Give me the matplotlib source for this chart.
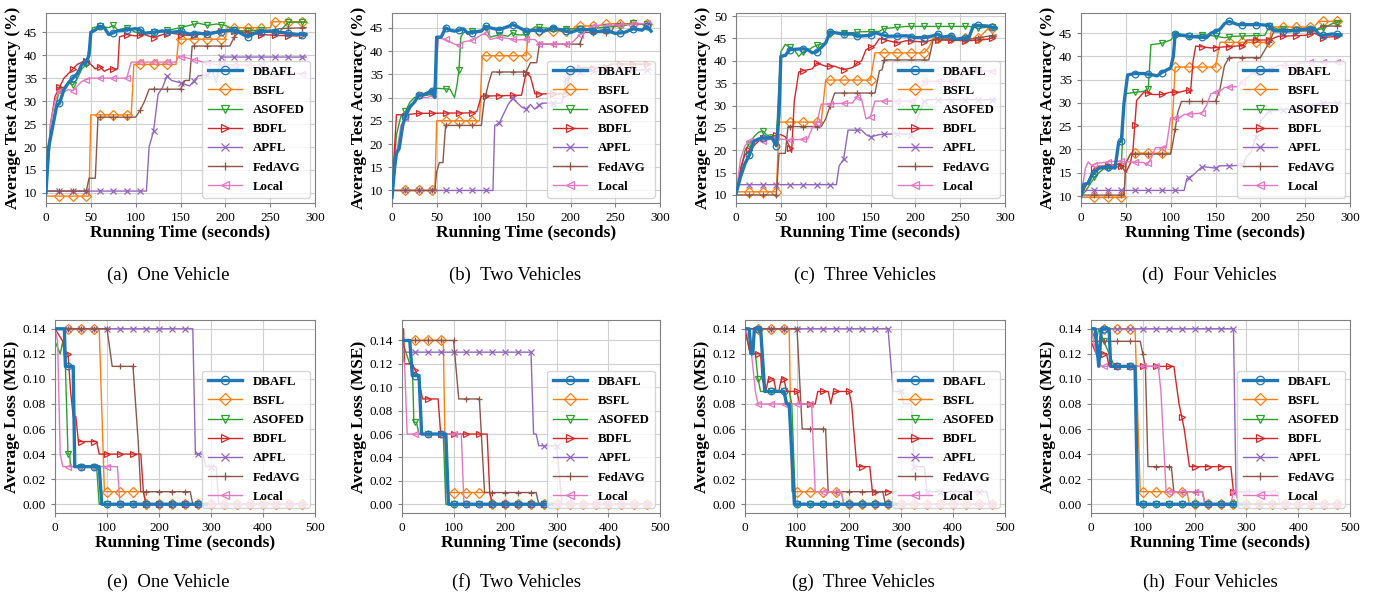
import numpy as np
import matplotlib.pyplot as plt
from matplotlib.lines import Line2D

plt.rcParams['font.family'] = ['Liberation Serif', 'DejaVu Serif']

methods = ['DBAFL', 'BSFL', 'ASOFED', 'BDFL', 'APFL', 'FedAVG', 'Local']
colors = ['tab:blue', 'tab:orange', 'tab:green', 'tab:red', 'tab:purple', 'tab:brown', 'tab:pink']
markers = ['o', 'D', 'v', '>', 'x', '+', '<']

# ---------------- accuracy, (a) one vehicle ----------------
acc1_dbafl = [(0, 10), (3, 20), (8, 25), (12, 29), (15, 29.5), (20, 32.5), (25, 34), (30, 35), (35, 36),
              (40, 38), (45, 38.5), (48, 40), (50, 45), (55, 45.5), (60, 46.3), (65, 46), (70, 44.5),
              (80, 45.3), (90, 45.5), (100, 45.8), (105, 45.5), (110, 44.8), (120, 45), (130, 45.3),
              (140, 45), (150, 45.2), (160, 44.6), (170, 44.8), (180, 44.6), (190, 45), (200, 45.3),
              (210, 45.5), (220, 44.5), (225, 44), (235, 45), (250, 45.3), (260, 45), (270, 44.8),
              (280, 44.5), (290, 44.5)]
acc1_bsfl = [(0, 9.3), (48, 9.3), (50, 27), (95, 27), (98, 38), (145, 38), (148, 43.5), (200, 43.5),
             (202, 46), (250, 46), (253, 47.3), (290, 47.3)]
acc1_asofed = [(0, 10), (5, 22), (10, 28), (15, 32.5), (20, 33), (25, 34), (30, 33.5), (35, 35), (40, 37),
               (45, 38), (50, 44), (52, 46), (60, 46.3), (70, 46), (75, 46.5), (80, 45.5), (90, 46),
               (100, 45), (110, 44.8), (120, 45), (130, 45.2), (150, 46), (160, 46.5), (170, 47),
               (180, 46.5), (190, 46.8), (200, 46.5), (210, 45.5), (220, 45.3), (240, 45.5), (260, 45),
               (270, 47.2), (290, 47.2)]
acc1_bdfl = [(0, 10), (5, 25), (10, 31), (15, 33), (20, 35), (25, 36), (30, 37), (35, 38), (40, 38.5),
             (45, 38.8), (50, 38), (55, 37), (60, 37.5), (65, 36.5), (70, 37), (80, 37), (82, 44),
             (90, 44.5), (100, 44.2), (110, 44.5), (120, 43.8), (130, 44.5), (140, 44.8), (150, 44.5),
             (160, 44.3), (170, 44.6), (180, 44.8), (200, 45.5), (220, 45), (240, 44.5), (260, 44.3),
             (280, 44.2), (290, 44.8)]
acc1_apfl = [(0, 10.4), (112, 10.4), (115, 20), (120, 23.5), (125, 31.5), (130, 33), (135, 35.5),
             (140, 34.5), (150, 34), (160, 33.3), (170, 35.5), (180, 35.7), (185, 37), (190, 34),
             (195, 39.6), (290, 39.6)]
acc1_fedavg = [(0, 10.4), (45, 10.4), (48, 13.2), (55, 13.2), (58, 26.5), (100, 26.5), (105, 28),
               (110, 30), (115, 32.6), (150, 32.6), (155, 34.5), (160, 34.5), (163, 42), (205, 42),
               (210, 44), (215, 45), (250, 45), (260, 45.8), (290, 46)]
acc1_local = [(0, 10), (5, 25), (10, 30), (15, 32.3), (20, 32), (25, 32.5), (30, 32.3), (35, 33.3),
              (40, 34.3), (45, 34.7), (50, 35), (90, 35), (95, 38.5), (145, 38.5), (148, 39.8),
              (155, 39.5), (165, 39), (175, 38.5), (190, 38), (240, 37.8), (250, 36), (290, 36)]

# ---------------- accuracy, (b) two vehicles ----------------
acc2_dbafl = [(0, 8.5), (3, 15), (5, 18), (8, 19), (12, 24), (15, 26), (20, 28), (25, 29), (30, 30.5),
              (35, 30.6), (40, 31), (45, 31.5), (48, 30), (50, 43), (55, 43), (60, 45), (65, 44.5),
              (70, 44.3), (75, 44.5), (80, 44.8), (85, 43.8), (90, 44), (100, 44.3), (105, 45.3),
              (110, 45), (120, 44.6), (130, 45.3), (135, 45.7), (140, 45.3), (150, 44.3), (160, 44.5),
              (170, 44.3), (180, 45), (190, 44.5), (200, 44), (210, 44.7), (220, 44.6), (230, 44.2),
              (240, 44.5), (250, 43.8), (260, 44), (270, 44.8), (280, 44.5), (285, 45.3), (290, 44.3)]
acc2_bsfl = [(0, 10), (48, 10), (50, 25), (98, 25), (101, 39), (150, 39), (153, 44.3), (200, 44.3),
             (205, 45.3), (230, 45.5), (245, 45.9), (290, 45.9)]
acc2_asofed = [(0, 10), (5, 22), (10, 26), (15, 27), (20, 29), (25, 30), (30, 30.3), (40, 30.5),
               (45, 31), (50, 32), (65, 31.8), (70, 30), (73, 33), (75, 36), (77, 43), (80, 44),
               (90, 44.3), (100, 44.5), (105, 45), (110, 43), (120, 43.5), (130, 43.2), (135, 44),
               (140, 43.5), (150, 43.5), (155, 44.5), (160, 45.2), (180, 44.8), (220, 44.8),
               (260, 45.5), (270, 46), (290, 45.8)]
acc2_bdfl = [(0, 10), (5, 26.3), (10, 26.3), (15, 26), (20, 26.4), (30, 26.6), (90, 26.7), (95, 27),
             (100, 30.3), (145, 30.5), (150, 35.3), (155, 34.5), (160, 30.8), (195, 30.8), (200, 36.3),
             (240, 36.5), (245, 37.2), (290, 37.2)]
acc2_apfl = [(0, 10), (113, 10), (115, 24), (120, 24.5), (130, 28.5), (135, 29.8), (145, 28), (150, 27.5),
             (155, 28.5), (160, 27.5), (165, 28.5), (170, 28.8), (190, 28.8), (195, 34), (200, 35.5),
             (250, 35.8), (290, 36)]
acc2_fedavg = [(0, 10), (48, 10), (50, 14), (53, 16), (57, 16), (60, 24), (100, 24), (103, 29), (108, 33),
               (112, 35.5), (150, 35.5), (155, 37.5), (162, 37.5), (165, 41.5), (210, 41.5), (215, 44),
               (245, 44), (250, 45.8), (290, 45.8)]
acc2_local = [(0, 10), (5, 18), (10, 24), (15, 25.5), (20, 27.5), (25, 29), (30, 30.5), (35, 30), (40, 30),
              (45, 30.5), (48, 33), (52, 42.8), (60, 42.5), (70, 41.5), (75, 41.3), (80, 42), (90, 42.3),
              (100, 43.5), (105, 43.8), (110, 42.5), (120, 43), (130, 42.7), (140, 42.4), (150, 42.5),
              (160, 42.5), (165, 41.5), (200, 41.5), (210, 43.5), (215, 44), (225, 45.5), (240, 45.5),
              (290, 46)]

# ---------------- accuracy, (c) three vehicles ----------------
acc3_dbafl = [(0, 10.3), (5, 14), (10, 17), (15, 19), (20, 22), (25, 22.5), (30, 22.7), (40, 22.8),
              (45, 21), (48, 28), (50, 41), (55, 41.2), (60, 42.5), (75, 42.7), (80, 42.5), (85, 41.8),
              (90, 42), (95, 43), (100, 44), (105, 46.5), (110, 46.3), (120, 46), (130, 46), (135, 45.5),
              (150, 45.7), (155, 46.3), (160, 46), (170, 45.5), (190, 45.6), (200, 45.2), (210, 45.2),
              (220, 45.6), (225, 46), (230, 45.3), (240, 45.6), (245, 44.8), (260, 45.3), (265, 48),
              (280, 47.8), (290, 47.3)]
acc3_bsfl = [(0, 10.7), (45, 10.7), (48, 26.3), (95, 26.3), (100, 35.7), (150, 35.7), (155, 41.8),
             (210, 41.8), (215, 43), (220, 45), (270, 45), (280, 47), (290, 47.5)]
acc3_asofed = [(0, 10), (10, 20), (15, 21.5), (20, 23), (25, 24), (30, 24.3), (35, 23.3), (40, 23.5),
               (45, 22.5), (48, 35), (50, 42), (55, 43.7), (60, 43), (65, 42.5), (70, 41), (75, 42),
               (80, 42.3), (85, 43), (90, 43.5), (100, 44), (105, 46), (110, 46.3), (130, 46.3),
               (140, 46.5), (160, 46.6), (165, 47.2), (180, 47.5), (190, 47.7), (260, 47.7),
               (270, 47.3), (290, 47.7)]
acc3_bdfl = [(0, 10), (5, 16), (10, 19), (15, 20), (20, 21), (25, 22), (30, 22.8), (40, 23.1), (50, 23.5),
             (55, 23), (60, 20.5), (62, 19.5), (65, 31), (70, 37.5), (75, 37.8), (85, 38.2), (90, 39.5),
             (100, 38.8), (110, 38.8), (120, 38), (130, 38.5), (135, 39.5), (140, 40), (145, 42.5),
             (155, 43.5), (160, 45), (170, 44.5), (180, 44), (190, 44.5), (210, 44.2), (220, 44.7),
             (260, 44.5), (280, 44.8), (290, 45.4)]
acc3_apfl = [(0, 12.3), (112, 12.3), (115, 16.5), (120, 18), (125, 24.5), (140, 24.5), (145, 23.5),
             (150, 23), (160, 23.5), (180, 23.7), (195, 23.5), (200, 26), (210, 31), (215, 31.3),
             (290, 31.3)]
acc3_fedavg = [(0, 10), (45, 10), (48, 19.3), (55, 19.3), (58, 25.3), (95, 25.3), (100, 27), (110, 32.8),
               (155, 32.8), (160, 37.8), (163, 38), (165, 40.2), (215, 40.2), (220, 44.8), (260, 44.8),
               (290, 45.8)]
acc3_local = [(0, 10), (5, 18), (10, 21), (15, 22), (20, 22.5), (30, 22.1), (40, 22.5), (45, 23),
              (50, 22.5), (60, 22.3), (80, 22.5), (85, 25), (90, 26), (95, 30.3), (120, 30.5),
              (130, 30.6), (135, 32), (140, 31.5), (145, 27), (150, 27.5), (155, 31), (200, 31),
              (210, 35.4), (250, 35.4), (255, 37.7), (290, 37.7)]

# ---------------- accuracy, (d) four vehicles ----------------
acc4_dbafl = [(0, 10), (3, 12.5), (8, 12.7), (12, 14.5), (15, 15), (20, 16), (30, 16.2), (38, 16),
              (42, 21.5), (45, 21.8), (48, 30), (52, 36), (60, 36.3), (70, 36.3), (80, 36), (85, 35.8),
              (90, 36.5), (100, 37.5), (103, 40), (105, 44.8), (110, 44.6), (120, 44.3), (140, 44),
              (145, 45), (150, 45.3), (155, 45.8), (160, 47), (165, 47.5), (175, 46.8), (200, 46.8),
              (210, 46.6), (215, 45.5), (230, 45.4), (240, 45.6), (250, 45.8), (260, 46), (265, 44.8),
              (270, 44.5), (280, 44.8), (290, 44.6)]
acc4_bsfl = [(0, 9.7), (48, 9.7), (50, 17), (55, 19), (60, 19.2), (100, 19.2), (103, 30), (105, 37.7),
             (150, 37.7), (155, 43), (210, 43), (213, 46.3), (260, 46.3), (265, 47.5), (290, 47.5)]
acc4_asofed = [(0, 10), (5, 11), (10, 12.5), (15, 14), (20, 15), (25, 15.8), (30, 16), (40, 16.2),
               (45, 16.5), (48, 30), (50, 32), (70, 32.5), (75, 33), (78, 42.5), (90, 42.8), (100, 43.5),
               (105, 44.5), (110, 44.3), (140, 44.6), (150, 44.3), (160, 44), (170, 44.3), (205, 44.5),
               (210, 46.5), (220, 45.8), (260, 45.5), (270, 46), (280, 47), (290, 47.5)]
acc4_bdfl = [(0, 10), (5, 12), (10, 14), (15, 16), (20, 16.4), (30, 16.5), (40, 16.8), (45, 16.5),
             (50, 15), (55, 17), (58, 20), (62, 30.5), (70, 32.3), (80, 31.8), (90, 31.8), (100, 32.3),
             (110, 32.3), (120, 32.8), (122, 32), (125, 39), (128, 42.2), (145, 41.8), (165, 42.1),
             (180, 42.3), (185, 43.5), (210, 43.5), (220, 44.3), (250, 44.5), (260, 45), (270, 44),
             (290, 44.4)]
acc4_apfl = [(0, 11.2), (115, 11.2), (118, 13.7), (125, 14.5), (135, 16.3), (150, 16), (155, 16.5),
             (170, 16.5), (180, 16.7), (185, 18.5), (190, 19.5), (200, 26), (210, 28.3), (215, 28.3),
             (260, 29.5), (270, 30), (290, 30)]
acc4_fedavg = [(0, 10.2), (48, 10.2), (50, 17), (55, 19), (100, 19), (103, 22), (108, 28), (112, 30.3),
               (150, 30.3), (155, 33), (160, 38), (165, 39.7), (200, 39.7), (210, 43), (215, 45.3),
               (260, 45.5), (270, 46.5), (290, 46.5)]
acc4_local = [(0, 10), (5, 16), (8, 17.3), (12, 16.5), (18, 17), (25, 17.2), (40, 17.5), (55, 17.3),
              (70, 17.2), (73, 16.5), (78, 18), (83, 20.4), (95, 20.4), (100, 26.8), (110, 26.8),
              (115, 27.5), (135, 27.8), (140, 29.5), (145, 32), (155, 32.5), (160, 33.3), (175, 33.5),
              (180, 34.5), (190, 36.2), (200, 36.8), (215, 37.5), (220, 38), (240, 38.2), (250, 38.7),
              (290, 38.8)]

# ---------------- loss, (e) one vehicle ----------------
loss1_dbafl = [(0, 0.14), (18, 0.14), (20, 0.11), (35, 0.11), (38, 0.03), (85, 0.03), (90, 0.0), (290, 0.0)]
loss1_bsfl = [(0, 0.14), (85, 0.14), (95, 0.01), (170, 0.01), (175, 0.0), (480, 0.0)]
loss1_asofed = [(0, 0.13), (10, 0.12), (15, 0.13), (20, 0.11), (25, 0.04), (28, 0.04), (30, 0.03),
                (80, 0.03), (85, 0.0), (290, 0.0)]
loss1_bdfl = [(0, 0.14), (15, 0.13), (20, 0.12), (25, 0.12), (30, 0.09), (35, 0.07), (40, 0.07), (45, 0.05),
              (80, 0.05), (85, 0.04), (165, 0.04), (170, 0.01), (175, 0.0), (290, 0.0)]
loss1_apfl = [(0, 0.14), (265, 0.14), (270, 0.04), (285, 0.04), (290, 0.03), (310, 0.03), (315, 0.0),
              (480, 0.0)]
loss1_fedavg = [(0, 0.14), (100, 0.14), (110, 0.11), (150, 0.11), (160, 0.05), (165, 0.01), (260, 0.01),
                (265, 0.0), (480, 0.0)]
loss1_local = [(0, 0.14), (5, 0.13), (10, 0.04), (15, 0.03), (120, 0.03), (125, 0.0), (480, 0.0)]

# ---------------- loss, (f) two vehicles ----------------
loss2_dbafl = [(0, 0.14), (15, 0.14), (20, 0.11), (33, 0.11), (38, 0.06), (85, 0.06), (90, 0.0), (290, 0.0)]
loss2_bsfl = [(0, 0.14), (80, 0.14), (85, 0.01), (170, 0.01), (175, 0.0), (480, 0.0)]
loss2_asofed = [(0, 0.14), (15, 0.12), (20, 0.12), (23, 0.07), (28, 0.07), (33, 0.06), (80, 0.06),
                (85, 0.0), (290, 0.0)]
loss2_bdfl = [(0, 0.15), (3, 0.15), (5, 0.12), (20, 0.12), (30, 0.11), (35, 0.10), (40, 0.09), (70, 0.09),
              (75, 0.06), (165, 0.06), (170, 0.01), (175, 0.0), (290, 0.0)]
loss2_apfl = [(0, 0.13), (250, 0.13), (255, 0.06), (260, 0.06), (265, 0.05), (300, 0.05), (310, 0.0),
              (480, 0.0)]
loss2_fedavg = [(0, 0.14), (100, 0.14), (110, 0.09), (150, 0.09), (160, 0.01), (260, 0.01), (265, 0.0),
                (480, 0.0)]
loss2_local = [(0, 0.13), (5, 0.12), (10, 0.06), (115, 0.06), (120, 0.0), (480, 0.0)]

# ---------------- loss, (g) three vehicles ----------------
loss3_dbafl = [(0, 0.14), (8, 0.14), (12, 0.12), (15, 0.12), (18, 0.14), (30, 0.14), (38, 0.09), (75, 0.09),
               (80, 0.08), (85, 0.08), (95, 0.0), (290, 0.0)]
loss3_bsfl = [(0, 0.14), (85, 0.14), (90, 0.01), (185, 0.01), (190, 0.0), (480, 0.0)]
loss3_asofed = [(0, 0.14), (10, 0.12), (20, 0.12), (25, 0.10), (30, 0.09), (85, 0.09), (90, 0.08),
                (97, 0.0), (290, 0.0)]
loss3_bdfl = [(0, 0.14), (10, 0.12), (30, 0.12), (33, 0.10), (40, 0.09), (45, 0.1), (55, 0.1), (60, 0.09),
              (65, 0.09), (70, 0.1), (75, 0.1), (80, 0.09), (100, 0.09), (105, 0.08), (135, 0.08),
              (140, 0.09), (160, 0.09), (165, 0.08), (170, 0.09), (200, 0.09), (205, 0.08), (215, 0.03),
              (240, 0.03), (245, 0.01), (290, 0.01)]
loss3_apfl = [(0, 0.14), (275, 0.14), (285, 0.09), (300, 0.09), (305, 0.08), (320, 0.08), (325, 0.03),
              (345, 0.03), (350, 0.01), (465, 0.01), (470, 0.0), (480, 0.0)]
loss3_fedavg = [(0, 0.14), (100, 0.14), (105, 0.1), (110, 0.06), (155, 0.06), (160, 0.01), (265, 0.01),
                (270, 0.0), (480, 0.0)]
loss3_local = [(0, 0.14), (10, 0.13), (20, 0.09), (25, 0.08), (128, 0.08), (135, 0.01), (185, 0.01),
               (190, 0.0), (480, 0.0)]

# ---------------- loss, (h) four vehicles ----------------
loss4_dbafl = [(0, 0.14), (8, 0.14), (15, 0.11), (20, 0.14), (35, 0.14), (38, 0.11), (85, 0.11), (90, 0.0),
               (290, 0.0)]
loss4_bsfl = [(0, 0.14), (85, 0.14), (95, 0.01), (185, 0.01), (190, 0.0), (480, 0.0)]
loss4_asofed = [(0, 0.14), (10, 0.13), (15, 0.14), (25, 0.13), (35, 0.12), (45, 0.11), (85, 0.11),
                (90, 0.0), (290, 0.0)]
loss4_bdfl = [(0, 0.13), (10, 0.12), (30, 0.12), (35, 0.11), (160, 0.11), (170, 0.08), (180, 0.06),
              (190, 0.03), (270, 0.03), (275, 0.01), (290, 0.01)]
loss4_apfl = [(0, 0.14), (275, 0.14), (280, 0.01), (285, 0.0), (480, 0.0)]
loss4_fedavg = [(0, 0.13), (95, 0.13), (105, 0.11), (110, 0.03), (155, 0.03), (160, 0.01), (215, 0.01),
                (220, 0.0), (480, 0.0)]
loss4_local = [(0, 0.14), (10, 0.12), (20, 0.11), (130, 0.11), (135, 0.09), (145, 0.01), (215, 0.01),
               (220, 0.0), (270, 0.0), (275, 0.01), (360, 0.01), (365, 0.0), (480, 0.0)]

acc_series = [
    [acc1_dbafl, acc1_bsfl, acc1_asofed, acc1_bdfl, acc1_apfl, acc1_fedavg, acc1_local],
    [acc2_dbafl, acc2_bsfl, acc2_asofed, acc2_bdfl, acc2_apfl, acc2_fedavg, acc2_local],
    [acc3_dbafl, acc3_bsfl, acc3_asofed, acc3_bdfl, acc3_apfl, acc3_fedavg, acc3_local],
    [acc4_dbafl, acc4_bsfl, acc4_asofed, acc4_bdfl, acc4_apfl, acc4_fedavg, acc4_local],
]
loss_series = [
    [loss1_dbafl, loss1_bsfl, loss1_asofed, loss1_bdfl, loss1_apfl, loss1_fedavg, loss1_local],
    [loss2_dbafl, loss2_bsfl, loss2_asofed, loss2_bdfl, loss2_apfl, loss2_fedavg, loss2_local],
    [loss3_dbafl, loss3_bsfl, loss3_asofed, loss3_bdfl, loss3_apfl, loss3_fedavg, loss3_local],
    [loss4_dbafl, loss4_bsfl, loss4_asofed, loss4_bdfl, loss4_apfl, loss4_fedavg, loss4_local],
]
acc_captions = ['(a)  One Vehicle', '(b)  Two Vehicles', '(c)  Three Vehicles', '(d)  Four Vehicles']
loss_captions = ['(e)  One Vehicle', '(f)  Two Vehicles', '(g)  Three Vehicles', '(h)  Four Vehicles']
acc_ylims = [(7.8, 49.2), (7.3, 48.2), (8.2, 50.7), (8.5, 49.3)]
acc_yticks = [[10, 15, 20, 25, 30, 35, 40, 45], [10, 15, 20, 25, 30, 35, 40, 45],
              [10, 15, 20, 25, 30, 35, 40, 45, 50], [10, 15, 20, 25, 30, 35, 40, 45]]

W, H = 1382, 597
fig = plt.figure(figsize=(W / 100, H / 100), dpi=100)

# pixel boxes (left, right, top, bottom)
top_boxes = [(46, 315, 13, 203), (392, 660, 13, 203), (736, 1005, 13, 203), (1081, 1350, 13, 203)]
bot_boxes = [(55, 315, 320, 513), (402, 660, 320, 513), (745, 1005, 320, 513), (1091, 1350, 320, 513)]
cap_x_top = [168, 515, 865, 1209]
cap_x_bot = [168, 516, 863, 1210]


def make_ax(box):
    l, r, t, b = box
    return fig.add_axes([l / W, 1 - b / H, (r - l) / W, (b - t) / H])


def draw(ax, series, xlim, xticks, mark_step):
    handles = []
    for i, pts in enumerate(series):
        t, v = (np.array(a, dtype=float) for a in zip(*pts))
        lw = 2.4 if i == 0 else 1.0
        z = 3 if i == 0 else 2
        ax.plot(t, v, color=colors[i], linewidth=lw, zorder=z)
        # markers sit on the drawn line every mark_step seconds
        mt = np.arange(mark_step, t[-1] + 1e-6, mark_step)
        ax.plot(mt, np.interp(mt, t, v), linestyle='none', marker=markers[i], color=colors[i],
                markerfacecolor='none', markersize=4.8, markeredgewidth=0.9, zorder=z)
        handles.append(Line2D([], [], color=colors[i], linewidth=lw, marker=markers[i],
                              markerfacecolor='none', markersize=6, markeredgewidth=0.9))
    ax.set_xlim(*xlim)
    ax.set_xticks(xticks)
    ax.grid(True, color='#d0d0d0', linewidth=0.8)
    ax.set_axisbelow(True)
    for s in ax.spines.values():
        s.set_color('#808080')
    ax.tick_params(labelsize=9.5, length=3, color='#808080')
    ax.set_xlabel('Running Time (seconds)', fontsize=12.5, fontweight='bold', labelpad=1)
    ax.legend(handles, methods, loc='lower right', prop={'weight': 'bold', 'size': 9.3},
              handlelength=2.7, borderaxespad=0.4, labelspacing=0.55)


for k in range(4):
    ax = make_ax(top_boxes[k])
    draw(ax, acc_series[k], (0, 300), [0, 50, 100, 150, 200, 250, 300], 15)
    ax.set_ylim(*acc_ylims[k])
    ax.set_yticks(acc_yticks[k])
    ax.set_ylabel('Average Test Accuracy (%)', fontsize=12.5, fontweight='bold', labelpad=2)
    fig.text(cap_x_top[k] / W, 1 - 275 / H, acc_captions[k], ha='center', va='center', fontsize=13.5)

    ax = make_ax(bot_boxes[k])
    draw(ax, loss_series[k], (0, 500), [0, 100, 200, 300, 400, 500], 25)
    ax.set_yticks([0.0, 0.02, 0.04, 0.06, 0.08, 0.10, 0.12, 0.14])
    ax.set_yticklabels(['0.00', '0.02', '0.04', '0.06', '0.08', '0.10', '0.12', '0.14'])
    ax.set_ylabel('Average Loss (MSE)', fontsize=12.5, fontweight='bold', labelpad=2)
    fig.text(cap_x_bot[k] / W, 1 - 582 / H, loss_captions[k], ha='center', va='center', fontsize=13.5)

fig.savefig('out.png', dpi=100)
